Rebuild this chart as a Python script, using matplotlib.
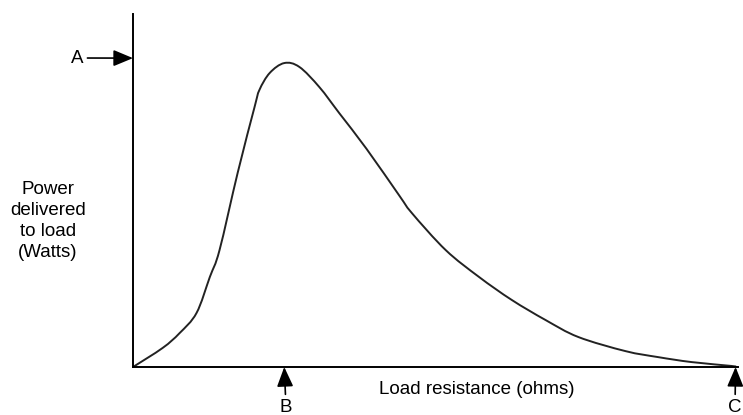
import matplotlib
matplotlib.use("Agg")
import matplotlib.pyplot as plt
import numpy as np
from matplotlib.path import Path
from matplotlib.patches import PathPatch

plt.rcParams['font.family'] = ['Liberation Sans', 'DejaVu Sans']

# curve (arbitrary units, axes run 0..100)
resistance = [0, 4.9, 7.7, 10.5, 12.7, 14.3, 17.3, 20.1, 20.9, 22.6, 25.0,
              27.5, 30.8, 34.1, 38.6, 44.0, 46.1, 51.7, 57.2, 62.6, 68.2,
              73.6, 81.4, 86.8, 92.3, 98.9, 99.6]
power = [0, 5.4, 9.6, 15.3, 25.5, 33.1, 55.0, 73.7, 78.5, 83.3, 86.1,
         85.0, 79.3, 71.9, 61.8, 48.6, 43.6, 33.1, 25.5, 19.0, 13.3,
         8.5, 4.5, 2.8, 1.4, 0.3, 0.0]


def smooth_path(xs, ys):
    # Catmull-Rom through the points, written as cubic bezier segments
    pts = np.column_stack([xs, ys])
    verts = [pts[0]]
    codes = [Path.MOVETO]
    for i in range(len(pts) - 1):
        p0 = pts[max(i - 1, 0)]
        p1 = pts[i]
        p2 = pts[i + 1]
        p3 = pts[min(i + 2, len(pts) - 1)]
        verts += [p1 + (p2 - p0) / 6, p2 - (p3 - p1) / 6, p2]
        codes += [Path.CURVE4] * 3
    return Path(verts, codes)


W, H = 743, 415
fig = plt.figure(figsize=(W / 100, H / 100), dpi=100)
ax = fig.add_axes([133 / W, (H - 367) / H, (738 - 133) / W, (367 - 14) / H])

ax.add_patch(PathPatch(smooth_path(resistance, power), facecolor='none',
                       edgecolor='#222222', lw=1.4, capstyle='round'))
ax.set_xlim(0, 100)
ax.set_ylim(0, 100)
ax.set_xticks([])
ax.set_yticks([])
for side in ['top', 'right']:
    ax.spines[side].set_visible(False)
for side in ['left', 'bottom']:
    ax.spines[side].set_linewidth(1.4)

peak = power.index(max(power))
arrow = dict(arrowstyle='-|>,head_length=0.6,head_width=0.25', color='black',
             lw=1.2, mutation_scale=20, shrinkA=1, shrinkB=0)

# A: max power on the y axis
ax.annotate('A', xy=(0, 87.5), xycoords='data', xytext=(77, H - 58),
            textcoords='figure pixels', ha='center', va='center',
            fontsize=13.5, arrowprops=arrow, annotation_clip=False)
# B: load resistance at the peak
ax.annotate('B', xy=(resistance[peak], 0), xycoords='data',
            xytext=(286, H - 407), textcoords='figure pixels', ha='center',
            va='center', fontsize=13.5, arrowprops=arrow, annotation_clip=False)
# C: end of the load resistance range
ax.annotate('C', xy=(resistance[-1], 0), xycoords='data',
            xytext=(735, H - 407), textcoords='figure pixels', ha='center',
            va='center', fontsize=13.5, arrowprops=arrow, annotation_clip=False)

fig.text(477 / W, (H - 389) / H, 'Load resistance (ohms)', ha='center',
         va='center', fontsize=13.5)
fig.text(48 / W, (H - 221) / H, 'Power\ndelivered\nto load\n(Watts)',
         ha='center', va='center', multialignment='center', fontsize=13.5,
         linespacing=1.3)

fig.savefig('out.png', dpi=100)
